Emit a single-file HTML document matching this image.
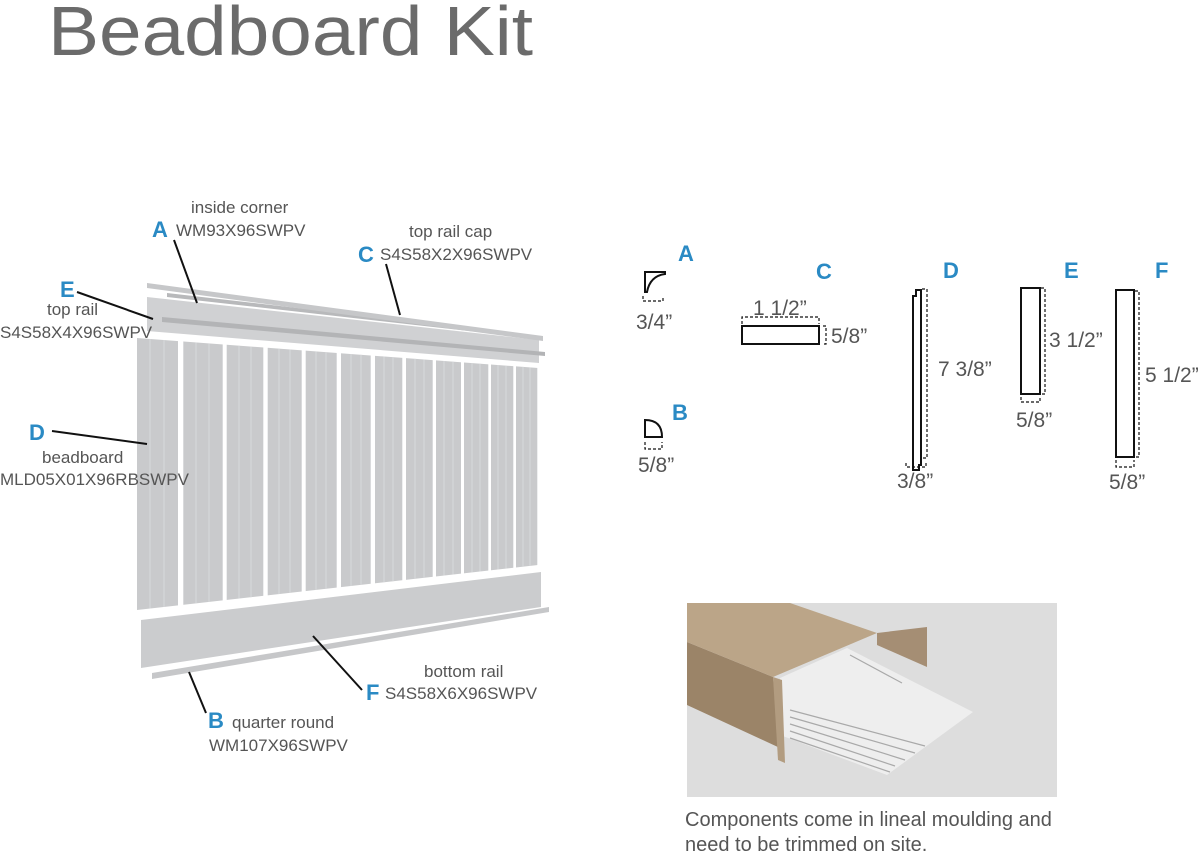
<!DOCTYPE html>
<html><head><meta charset="utf-8"><style>
html,body{margin:0;padding:0;background:#fff;}
svg{display:block;}
text{font-family:"Liberation Sans",Arial,sans-serif;}
</style></head><body>
<svg width="1200" height="855" viewBox="0 0 1200 855" xmlns="http://www.w3.org/2000/svg">
<rect width="1200" height="855" fill="#fff"/>
<text x="48" y="55" font-size="70" fill="#6b6b6b" textLength="485" lengthAdjust="spacingAndGlyphs">Beadboard Kit</text>

<defs>
<clipPath id="bc"><polygon points="137,338 538,368 538,565 137,610"/></clipPath>
</defs>
<!-- top rail -->
<polygon points="147,297 539,340 539,363 147,331" fill="#d0d1d3"/>
<polygon points="162,317 545,352 545,356 162,322" fill="#b3b4b6"/>
<polygon points="167,293 540,336 540,339 167,297" fill="#b8b9bb"/>
<polygon points="147,283 543,336 543,341 147,288" fill="#c6c7c9"/>
<!-- boards -->
<g clip-path="url(#bc)" fill="#c9cacc">
<rect x="137" y="330" width="41" height="290"/>
<rect x="183.3" y="330" width="39.4" height="290"/>
<rect x="226.7" y="330" width="36.6" height="290"/>
<rect x="267.7" y="330" width="34" height="290"/>
<rect x="305.7" y="330" width="31" height="290"/>
<rect x="341" y="330" width="29.7" height="290"/>
<rect x="375" y="330" width="27.3" height="290"/>
<rect x="406" y="330" width="26.7" height="290"/>
<rect x="436" y="330" width="25" height="290"/>
<rect x="464" y="330" width="24.3" height="290"/>
<rect x="491" y="330" width="22.3" height="290"/>
<rect x="516" y="330" width="21.3" height="290"/>
</g>
<g clip-path="url(#bc)" stroke="#d8d9db" stroke-width="1">
<line x1="150" y1="330" x2="150" y2="620"/><line x1="164" y1="330" x2="164" y2="620"/>
<line x1="196" y1="330" x2="196" y2="620"/><line x1="209" y1="330" x2="209" y2="620"/>
<line x1="239" y1="330" x2="239" y2="620"/><line x1="251" y1="330" x2="251" y2="620"/>
<line x1="279" y1="330" x2="279" y2="620"/><line x1="290" y1="330" x2="290" y2="620"/>
<line x1="316" y1="330" x2="316" y2="620"/><line x1="326" y1="330" x2="326" y2="620"/>
<line x1="351" y1="330" x2="351" y2="620"/><line x1="361" y1="330" x2="361" y2="620"/>
<line x1="384" y1="330" x2="384" y2="620"/><line x1="393" y1="330" x2="393" y2="620"/>
<line x1="415" y1="330" x2="415" y2="620"/><line x1="424" y1="330" x2="424" y2="620"/>
<line x1="444" y1="330" x2="444" y2="620"/><line x1="453" y1="330" x2="453" y2="620"/>
<line x1="472" y1="330" x2="472" y2="620"/><line x1="480" y1="330" x2="480" y2="620"/>
<line x1="498" y1="330" x2="498" y2="620"/><line x1="506" y1="330" x2="506" y2="620"/>
<line x1="523" y1="330" x2="523" y2="620"/><line x1="530" y1="330" x2="530" y2="620"/>
</g>
<!-- bottom rail -->
<polygon points="141,620 541,572 541,607 141,668" fill="#cbccce"/>
<polygon points="152,673 549,607 549,612 152,679" fill="#c6c7c9"/>

<!-- leader lines -->
<g stroke="#111" stroke-width="2">
<line x1="174" y1="240" x2="197" y2="303"/>
<line x1="386" y1="264" x2="400" y2="315"/>
<line x1="77" y1="292" x2="153" y2="319"/>
<line x1="52" y1="431" x2="147" y2="444"/>
<line x1="313" y1="636" x2="362" y2="690"/>
<line x1="189" y1="672" x2="206" y2="713"/>
</g>
<!-- labels -->
<g font-size="17" fill="#555">
<text x="191" y="213">inside corner</text>
<text x="176" y="236">WM93X96SWPV</text>
<text x="409" y="237">top rail cap</text>
<text x="380" y="260">S4S58X2X96SWPV</text>
<text x="47" y="315">top rail</text>
<text x="0" y="338">S4S58X4X96SWPV</text>
<text x="42" y="463">beadboard</text>
<text x="0" y="485">MLD05X01X96RBSWPV</text>
<text x="424" y="677">bottom rail</text>
<text x="385" y="699">S4S58X6X96SWPV</text>
<text x="232" y="728">quarter round</text>
<text x="209" y="751">WM107X96SWPV</text>
</g>
<g font-size="22" font-weight="bold" fill="#2a8ac4">
<text x="152" y="237">A</text>
<text x="358" y="262">C</text>
<text x="60" y="297">E</text>
<text x="29" y="440">D</text>
<text x="366" y="700">F</text>
<text x="208" y="728">B</text>
<text x="678" y="261">A</text>
<text x="816" y="279">C</text>
<text x="943" y="278">D</text>
<text x="1064" y="278">E</text>
<text x="1155" y="278">F</text>
<text x="672" y="420">B</text>
</g>

<!-- profiles -->
<g fill="none" stroke="#111" stroke-width="2">
<path d="M645,292 L645,272 L665,272 L665,274 Q650,276 647,292 Z"/>
<path d="M645,437 L645,420 Q662,420 662,437 Z"/>
<rect x="742" y="326" width="77" height="18"/>
<path d="M916,290 L916,296 L913,296 L913,470 L919,470 L919,465 L921,465 L921,290 Z"/>
<rect x="1021" y="288" width="19" height="106"/>
<rect x="1116" y="290" width="18" height="167"/>
</g>
<g fill="none" stroke="#111" stroke-width="1.2" stroke-dasharray="3,2">
<path d="M643,296 L643,301 L663,301 L663,296"/>
<path d="M645,442 L645,449 L662,449 L662,442"/>
<path d="M742,324 L742,317 L819,317 L819,324"/>
<path d="M823,326 L826,326 L826,344 L823,344"/>
<path d="M922,289 L927,289 L927,458 L922,458"/>
<path d="M906,463 L906,467 L926,467 L926,463"/>
<path d="M1041,288 L1045,288 L1045,394 L1041,394"/>
<path d="M1021,397 L1021,402 L1040,402 L1040,397"/>
<path d="M1135,291 L1139,291 L1139,457 L1135,457"/>
<path d="M1116,460 L1116,467 L1134,467 L1134,460"/>
</g>
<g font-size="21" fill="#555">
<text x="636" y="329">3/4”</text>
<text x="638" y="472">5/8”</text>
<text x="753" y="315">1 1/2”</text>
<text x="831" y="343">5/8”</text>
<text x="938" y="376">7 3/8”</text>
<text x="897" y="488">3/8”</text>
<text x="1049" y="347">3 1/2”</text>
<text x="1016" y="427">5/8”</text>
<text x="1145" y="382">5 1/2”</text>
<text x="1109" y="489">5/8”</text>
</g>

<!-- photo -->
<rect x="687" y="603" width="370" height="194" fill="#dddddd"/>
<polygon points="780,678 847,648 973,712 887,775 780,735" fill="#eeeeee"/>
<g stroke="#a9a9a9" stroke-width="1.2">
<line x1="790" y1="738" x2="890" y2="772"/>
<line x1="790" y1="731" x2="895" y2="766"/>
<line x1="790" y1="724" x2="905" y2="760"/>
<line x1="790" y1="717" x2="915" y2="753"/>
<line x1="790" y1="710" x2="925" y2="746"/>
<line x1="850" y1="655" x2="902" y2="683"/>
</g>
<polygon points="877,633 927,627 927,667 877,645" fill="#a58e74"/>
<polygon points="687,642 773,677 780,748 687,705" fill="#9b8468"/>
<polygon points="773,677 782,680 785,763 778,760" fill="#b29c80"/>
<polygon points="687,603 790,603 877,633 773,677 687,642" fill="#bba588"/>
<text x="685" y="826" font-size="20" fill="#555">Components come in lineal moulding and</text>
<text x="685" y="851" font-size="20" fill="#555">need to be trimmed on site.</text>
</svg>
</body></html>
